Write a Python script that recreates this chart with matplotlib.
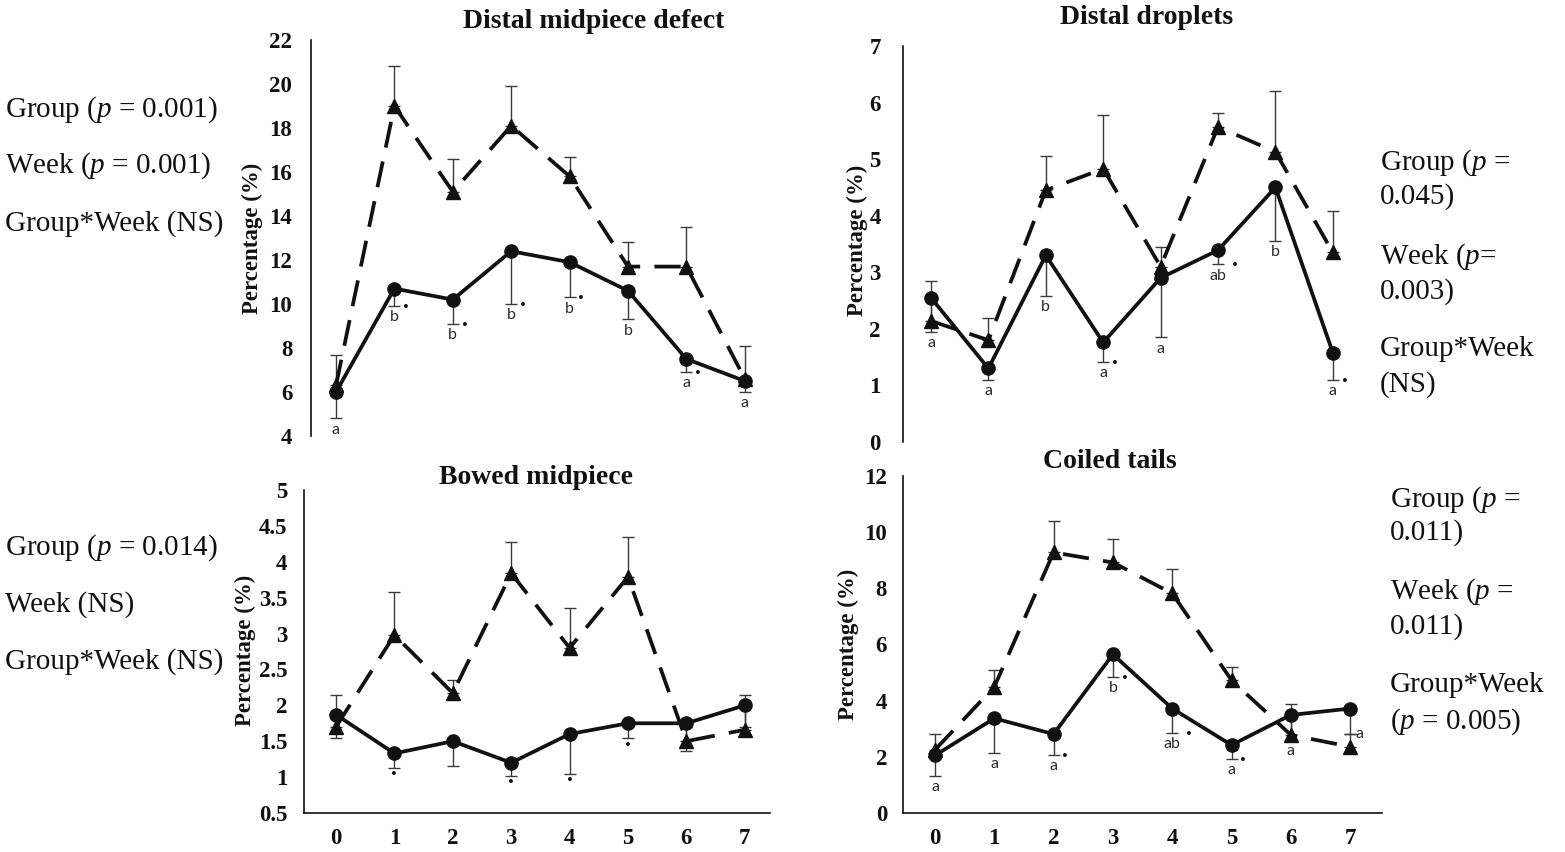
import matplotlib
matplotlib.use("Agg")
import matplotlib.pyplot as plt
import numpy as np

plt.rcParams["font.family"] = ["Liberation Serif", "DejaVu Serif"]
plt.rcParams["mathtext.fontset"] = "custom"
plt.rcParams["mathtext.rm"] = "Liberation Serif"
plt.rcParams["mathtext.it"] = "Liberation Serif:italic"

weeks = [0, 1, 2, 3, 4, 5, 6, 7]

# Distal midpiece defect
dmd_ctrl = [6.0, 10.7, 10.2, 12.4, 11.9, 10.6, 7.5, 6.5]
dmd_ctrl_se = [1.2, 0.8, 1.1, 2.4, 1.6, 1.3, 0.6, 0.5]
dmd_trt = [6.3, 19.0, 15.1, 18.1, 15.8, 11.7, 11.7, 6.6]
dmd_trt_se = [1.4, 1.8, 1.5, 1.8, 0.9, 1.1, 1.8, 1.5]
dmd_letters = ["a", "b", "b", "b", "b", "b", "a", "a"]
dmd_stars = [0, 1, 1, 1, 1, 0, 1, 0]

# Distal droplets
dd_ctrl = [2.55, 1.3, 3.3, 1.76, 2.9, 3.39, 4.5, 1.58]
dd_ctrl_se = [0.6, 0.2, 0.72, 0.34, 1.05, 0.25, 0.94, 0.48]
dd_trt = [2.14, 1.8, 4.45, 4.83, 3.1, 5.57, 5.13, 3.35]
dd_trt_se = [0.71, 0.4, 0.6, 0.95, 0.34, 0.24, 1.07, 0.74]
dd_letters = ["a", "a", "b", "a", "a", "ab", "b", "a"]
dd_stars = [0, 0, 0, 1, 0, 1, 0, 1]

# Bowed midpiece
bm_ctrl = [1.87, 1.33, 1.5, 1.2, 1.6, 1.75, 1.75, 2.0]
bm_ctrl_se = [0.32, 0.2, 0.34, 0.18, 0.55, 0.21, 0.38, 0.3]
bm_trt = [1.7, 2.98, 2.17, 3.84, 2.8, 3.79, 1.5, 1.66]
bm_trt_se = [0.45, 0.6, 0.18, 0.43, 0.55, 0.55, 0.2, 0.49]
bm_letters = ["", "", "", "", "", "", "", ""]
bm_stars = [0, 1, 0, 1, 1, 1, 0, 0]

# Coiled tails
ct_ctrl = [2.05, 3.37, 2.81, 5.65, 3.72, 2.42, 3.49, 3.72]
ct_ctrl_se = [0.73, 1.22, 0.74, 0.8, 0.88, 0.49, 0.89, 0.91]
ct_trt = [2.25, 4.49, 9.28, 8.92, 7.82, 4.73, 2.78, 2.36]
ct_trt_se = [0.56, 0.59, 1.12, 0.83, 0.87, 0.47, 1.1, 0.45]
ct_letters = ["a", "a", "a", "b", "ab", "a", "a", "a"]
ct_stars = [0, 0, 1, 1, 1, 1, 0, 0]

titles = ["Distal midpiece defect", "Distal droplets", "Bowed midpiece", "Coiled tails"]
ylabel = "Percentage (%)"

stats_top_left = ["Group ($p$ = 0.001)", "Week ($p$ = 0.001)", "Group*Week (NS)"]
stats_top_right = ["Group ($p$ =", "0.045)", "Week ($p$=", "0.003)", "Group*Week", "(NS)"]
stats_bot_left = ["Group ($p$ = 0.014)", "Week (NS)", "Group*Week (NS)"]
stats_bot_right = ["Group ($p$ =", "0.011)", "Week ($p$ =", "0.011)", "Group*Week", "($p$ = 0.005)"]

W, H = 1565, 852
fig = plt.figure(figsize=(W / 100, H / 100), dpi=100)


def fx(x):
    return x / W


def fy(y):
    return 1 - y / H


def make_axes(left, right, top, bottom, x0, step):
    ax = fig.add_axes([fx(left), fy(bottom), (right - left) / W, (bottom - top) / H])
    ax.set_xlim(-(x0 - left) / step, 7 + (right - (x0 + 7 * step)) / step)
    return ax


INK = "#111111"
BAR = "#3a3a3a"
LETTER = "#2b2b2b"


def draw_panel(ax, ctrl, ctrl_se, trt, trt_se, letters, stars, ylim, yticks, ytick_labels,
               ypad, show_x, letter_shift=None):
    ax.set_ylim(*ylim)
    zeros = [0] * len(weeks)
    ax.errorbar(weeks, trt, yerr=[zeros, trt_se], fmt="none", ecolor=BAR,
                elinewidth=1.0, capsize=4, capthick=1.0, zorder=2)
    ax.errorbar(weeks, ctrl, yerr=[ctrl_se, zeros], fmt="none", ecolor=BAR,
                elinewidth=1.0, capsize=4, capthick=1.0, zorder=2)
    ax.plot(weeks, trt, color=INK, lw=2.7, ls=(0, (7, 3.8)), marker="^",
            markersize=10, zorder=3)
    ax.plot(weeks, ctrl, color=INK, lw=2.7, ls="-", marker="o",
            markersize=9.5, zorder=4)

    for i, w in enumerate(weeks):
        low = ctrl[i] - ctrl_se[i]
        lab = letters[i]
        dx = 0
        dy = -3
        va = "top"
        if letter_shift and i in letter_shift:
            dx, dy, va = letter_shift[i]
        if lab:
            ax.annotate(lab, (w, low), xytext=(dx, dy), textcoords="offset points",
                        ha="center", va=va, fontsize=11.5, color=LETTER,
                        family=["Lato", "DejaVu Sans"], zorder=5)
            if stars[i]:
                sx = 8.5 if len(lab) == 1 else 12
                ax.annotate("\u2022", (w, low), xytext=(sx, -1), textcoords="offset points",
                            ha="center", va="center", fontsize=9.5, color=INK,
                            family=["DejaVu Sans"], zorder=5)
        elif stars[i]:
            ax.annotate("\u2022", (w, low), xytext=(0, -5), textcoords="offset points",
                        ha="center", va="center", fontsize=9.5, color=INK,
                        family=["DejaVu Sans"], zorder=5)

    ax.set_yticks(yticks)
    ax.set_yticklabels(ytick_labels, fontweight="bold", fontsize=16.5, color=INK)
    ax.tick_params(axis="y", length=0, pad=ypad)
    for s in ["top", "right"]:
        ax.spines[s].set_visible(False)
    ax.spines["left"].set_color(INK)
    ax.spines["left"].set_linewidth(1.2)
    if show_x:
        ax.spines["bottom"].set_color(INK)
        ax.spines["bottom"].set_linewidth(1.2)
        ax.set_xticks(weeks)
        ax.set_xticklabels([str(w) for w in weeks], fontweight="bold", fontsize=16.5, color=INK)
        ax.tick_params(axis="x", length=0, pad=11)
    else:
        ax.spines["bottom"].set_visible(False)
        ax.set_xticks([])
    ax.patch.set_alpha(0)


ax1 = make_axes(311, 770, 40, 436, 336, 58.4)
draw_panel(ax1, dmd_ctrl, dmd_ctrl_se, dmd_trt, dmd_trt_se, dmd_letters, dmd_stars,
           (4, 22), np.arange(4, 23, 2), [str(v) for v in range(4, 23, 2)], 13.5, False)

ax2 = make_axes(903, 1365, 46, 442, 931, 57.4)
draw_panel(ax2, dd_ctrl, dd_ctrl_se, dd_trt, dd_trt_se, dd_letters, dd_stars,
           (0, 7), np.arange(0, 8, 1), [str(v) for v in range(0, 8)], 16, False)

ax3 = make_axes(304, 770, 490, 813, 336, 58.4)
bm_ticks = np.arange(0.5, 5.01, 0.5)
draw_panel(ax3, bm_ctrl, bm_ctrl_se, bm_trt, bm_trt_se, bm_letters, bm_stars,
           (0.5, 5), bm_ticks, [f"{v:g}" for v in bm_ticks], 12, True)

ax4 = make_axes(903, 1382, 476, 813, 935, 59.3)
draw_panel(ax4, ct_ctrl, ct_ctrl_se, ct_trt, ct_trt_se, ct_letters, ct_stars,
           (0, 12), np.arange(0, 13, 2), [str(v) for v in range(0, 13, 2)], 11.5, True,
           letter_shift={7: (7, 0, "center")})

# panel titles
title_pos = [(594, 22), (1147, 18), (536, 477), (1110, 461)]
for t, (x, y) in zip(titles, title_pos):
    fig.text(fx(x), fy(y), t, ha="center", va="center", fontsize=20,
             fontweight="bold", color=INK)

# y-axis titles
ylab_pos = [(252, 238), (857, 240), (245, 650), (848, 644)]
for x, y in ylab_pos:
    fig.text(fx(x), fy(y), ylabel, ha="center", va="center", rotation=90,
             fontsize=16.5, fontweight="bold", color=INK)

# statistics annotations
def stat_block(lines, x, ys):
    for line, y in zip(lines, ys):
        fig.text(fx(x), fy(y), line, ha="left", va="center", fontsize=21, color=INK)


stat_block(stats_top_left, 5, [110, 166, 224])
stat_block(stats_bot_left, 5, [548, 605, 662])
stat_block(stats_top_right, 1380, [163, 197, 257, 292, 349, 385])
stat_block(stats_bot_right, 1390, [500, 533, 592, 627, 685, 722])

fig.savefig("out.png", dpi=100, facecolor="white")
